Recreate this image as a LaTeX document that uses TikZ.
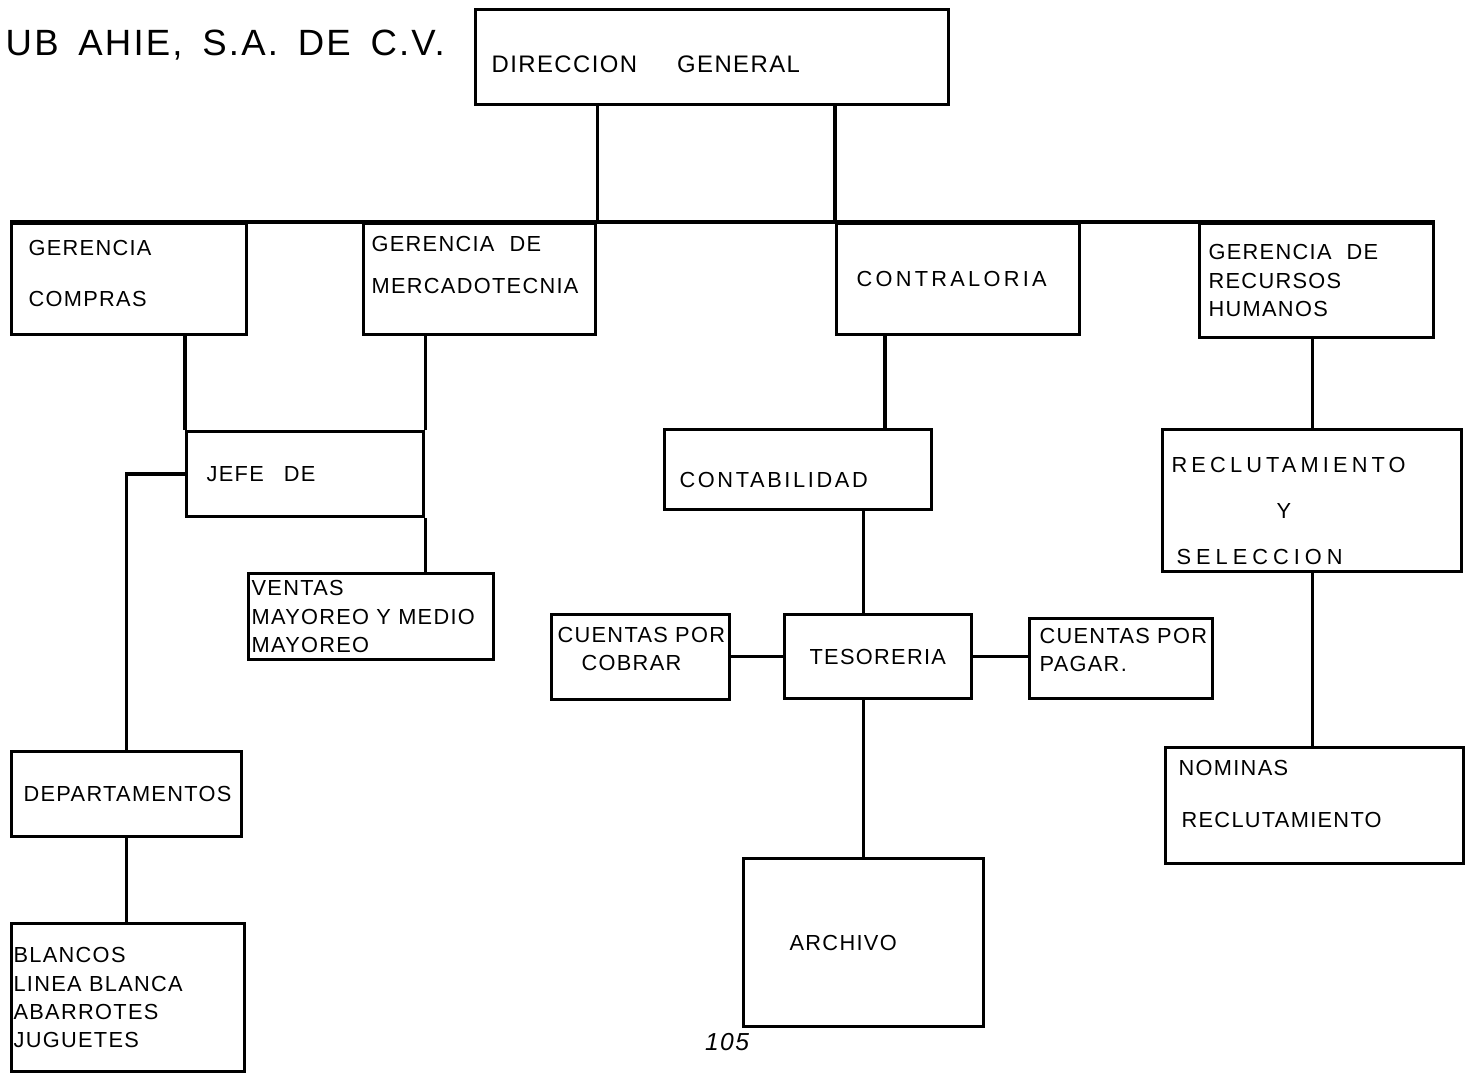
\documentclass[tikz,border=0pt]{standalone}
\usepackage{fontspec}
\newfontfamily\handfont[LetterSpace=6,WordSpace=1.6]{Liberation Sans}
\usetikzlibrary{calc}

\tikzset{
  box/.style={draw, line width=0.9pt, anchor=north west, inner sep=0pt, align=left,
              font=\handfont\fontsize{6.2}{8}\selectfont,
              execute at begin node={\hyphenpenalty=10000\exhyphenpenalty=10000}},
  link/.style={line width=0.9pt}
}

\begin{document}
\begin{tikzpicture}[x=0.1mm, y=-0.1mm]
        \useasboundingbox (0,0) rectangle (1471,1077);
        \node[anchor=west, inner xsep=0pt, font=\handfont\fontsize{10.4}{12}\selectfont] (firma) at (5,45) {UB AHIE, S.A. DE C.V.};
        \node[box, text width=47.3mm, minimum height=9.5mm] (dir) at (474,8) {\hspace*{1.6mm}\fontsize{6.8}{9}\selectfont\rule{0pt}{3.1mm}DIRECCION\hspace{4mm}GENERAL};

        % gerencias
        \node[box, text width=23.5mm, minimum height=11.1mm] (compras) at (10,222) {\hspace*{1.7mm}GERENCIA\\[2.3mm]\hspace*{1.7mm}\rule[-1.2mm]{0pt}{0pt}COMPRAS};
        \node[box, text width=23.2mm, minimum height=11.1mm] (mkt) at (362,222) {\hspace*{0.8mm}GERENCIA\hspace{1.5mm}DE\\[1.4mm]\hspace*{0.8mm}\rule[-2.8mm]{0pt}{0pt}MERCADOTECNIA};
        \node[box, text width=24.3mm, minimum height=11.1mm] (contra) at (835,222) {\hspace*{2mm}\addfontfeature{LetterSpace=15}CONTRALORIA};
        \node[box, text width=23.4mm, minimum height=11.4mm] (rh) at (1198,222) {\hspace*{0.9mm}GERENCIA\hspace{1.5mm}DE\\\hspace*{0.9mm}RECURSOS\\\hspace*{0.9mm}HUMANOS};

        % compras y mercadotecnia
        \node[box, text width=23.7mm, minimum height=8.5mm] (jefe) at (185,430) {\hspace*{2mm}JEFE\hspace{2mm}DE};
        \node[box, text width=24.5mm, minimum height=8.6mm] (ventas) at (247,572) {\hspace*{0.3mm}VENTAS\\\hspace*{0.3mm}MAYOREO Y MEDIO\\\hspace*{0.3mm}MAYOREO};
        \node[box, text width=23mm, minimum height=8.5mm] (dept) at (10,750) {\hspace*{1.2mm}DEPARTAMENTOS};
        \node[box, text width=23.3mm, minimum height=14.8mm] (blancos) at (10,922) {\hspace*{0.2mm}BLANCOS\\\hspace*{0.2mm}LINEA BLANCA\\\hspace*{0.2mm}ABARROTES\\\hspace*{0.2mm}JUGUETES};

        % contraloria
        \node[box, text width=26.7mm, minimum height=8mm] (contab) at (663,428) {\hspace*{1.5mm}\addfontfeature{LetterSpace=12}\rule{0pt}{3.6mm}CONTABILIDAD};
        \node[box, text width=18.7mm, minimum height=8.4mm] (tes) at (783,613) {\hspace*{2.5mm}TESORERIA};
        \node[box, text width=17.8mm, minimum height=8.5mm] (cobrar) at (550,613) {\hspace*{0.6mm}CUENTAS POR\\\hspace*{3mm}\rule[-1.6mm]{0pt}{0pt}COBRAR};
        \node[box, text width=18.3mm, minimum height=8mm] (pagar) at (1028,617) {\hspace*{1mm}CUENTAS POR\\\hspace*{1mm}\rule[-1.8mm]{0pt}{0pt}PAGAR.};
        \node[box, text width=24mm, minimum height=16.8mm] (archivo) at (742,857) {\hspace*{4.6mm}ARCHIVO};

        % recursos humanos
        \node[box, text width=29.9mm, minimum height=14.2mm] (recl) at (1161,428) {\hspace*{0.9mm}\rule{0pt}{3.6mm}{\addfontfeature{LetterSpace=19}RECLUTAMIENTO}\\[1.8mm]\hspace*{11.4mm}Y\\[1.8mm]\hspace*{1.4mm}{\addfontfeature{LetterSpace=23}SELECCION}};
        \node[box, text width=29.8mm, minimum height=11.6mm] (nom) at (1164,746) {\hspace*{1.3mm}NOMINAS\\[2.4mm]\hspace*{1.6mm}\rule[-2.4mm]{0pt}{0pt}RECLUTAMIENTO};

        \node[font=\handfont\itshape\fontsize{7}{8}\selectfont] (pag) at (727,1042) {105};

        % lineas
        \draw[link] (compras.north west) -- (rh.north east);
        \draw[link] (mkt.north east |- dir.south) -- (mkt.north east);
        \draw[link] (contra.north west |- dir.south) -- (contra.north west);
        \draw[link] (jefe.north west |- compras.south) -- (jefe.north west);
        \draw[link] (jefe.north east |- mkt.south) -- (jefe.north east);
        \draw[link] (jefe.south east) -- (jefe.south east |- ventas.north);
        \draw[link] (jefe.west) -| (dept.north);
        \draw[link] (dept.south) -- (dept.south |- blancos.north);
        \draw[link] ($(contra.south west)+(50,0)$) coordinate (c1) -- (c1 |- contab.north);
        \draw[link] (archivo.north |- contab.south) -- (archivo.north |- tes.north);
        \draw[link] (archivo.north |- tes.south) -- (archivo.north);
        \draw[link] (tes.west -| cobrar.east) -- (tes.west);
        \draw[link] (tes.east) -- (tes.east -| pagar.west);
        \draw[link] (recl.north |- rh.south) -- (recl.north);
        \draw[link] (recl.south) -- (recl.south |- nom.north);
\end{tikzpicture}
\end{document}
